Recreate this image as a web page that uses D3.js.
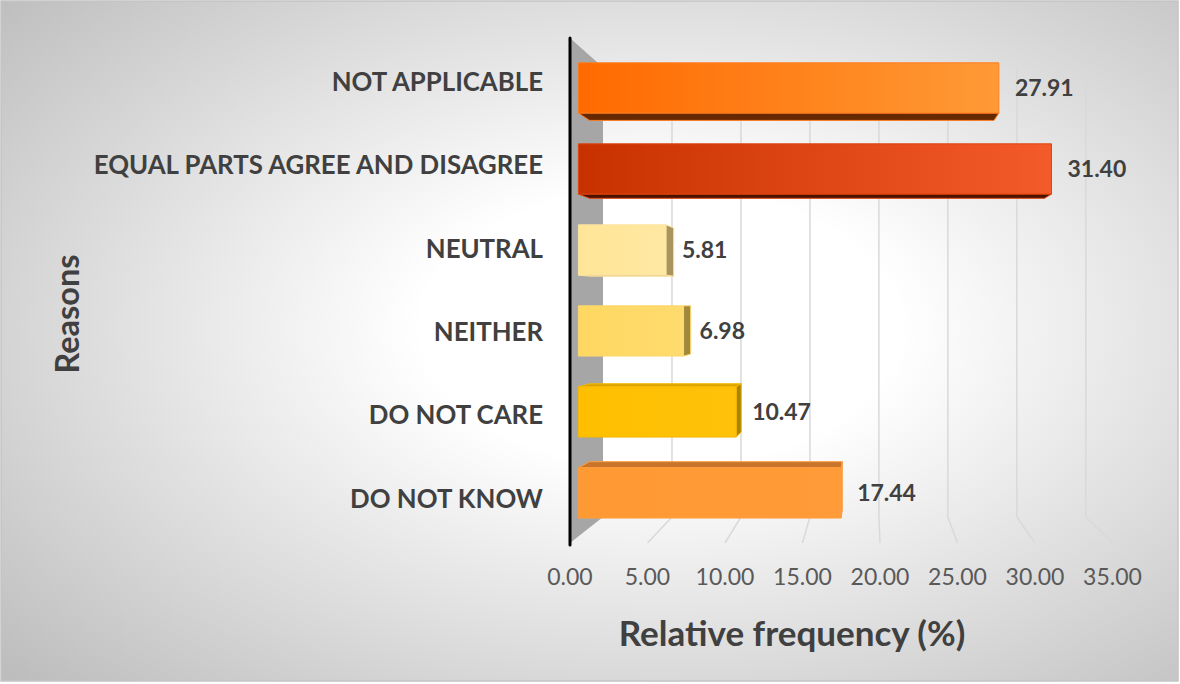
<!DOCTYPE html>
<html>
<head>
<meta charset="utf-8">
<script src="https://cdn.jsdelivr.net/npm/d3@7"></script>
<style>
  html, body { margin: 0; padding: 0; background: #ffffff; }
  svg { display: block; }
</style>
</head>
<body>
<svg id="chart" width="1180" height="684"></svg>
<script>
// ---- data ----
const categories = ["NOT APPLICABLE", "EQUAL PARTS AGREE AND DISAGREE", "NEUTRAL", "NEITHER", "DO NOT CARE", "DO NOT KNOW"];
const values = [27.91, 31.40, 5.81, 6.98, 10.47, 17.44];
const tickValues = [0, 5, 10, 15, 20, 25, 30, 35];
const tickLabels = ["0.00", "5.00", "10.00", "15.00", "20.00", "25.00", "30.00", "35.00"];
const xTitle = "Relative frequency (%)";
const yTitle = "Reasons";

// ---- palette (style) ----
const palette = [
  { front: ["#ff6a00", "#ff9a36"], top: "#d95a00", bottom: "#662800", right: "#a84400", stroke: "#ff7d1f" },
  { front: ["#c73100", "#f45b2b"], top: "#a82a00", bottom: "#4a1200", right: "#8a2400", stroke: "#e0440c" },
  { front: ["#ffe596", "#ffe8a3"], top: "#e0c680", bottom: "#a89560", right: "#a8945c", stroke: "#fde3a0" },
  { front: ["#ffd862", "#ffdb6e"], top: "#dcb64c", bottom: "#a0883a", right: "#a0883c", stroke: "#fcd76a" },
  { front: ["#ffbf00", "#ffc20a"], top: "#dba400", bottom: "#8f6c00", right: "#a98400", stroke: "#f5b800" },
  { front: ["#ff9933", "#ff9b38"], top: "#c8742a", bottom: "#8a4a10", right: "#b06a20", stroke: "#ff9d3d" }
];

const svg = d3.select("#chart");
const W = 1180, H = 684;
const defs = svg.append("defs");
const FONT = "Lato, 'Open Sans', sans-serif";

// background
const bg = defs.append("radialGradient").attr("id", "bgGrad")
  .attr("cx", "0.56").attr("cy", "0.48").attr("r", "0.75");
bg.append("stop").attr("offset", "0").attr("stop-color", "#ffffff");
bg.append("stop").attr("offset", "0.27").attr("stop-color", "#ffffff");
bg.append("stop").attr("offset", "1").attr("stop-color", "#bdbdbd");

svg.append("rect").attr("x", 1).attr("y", 1).attr("width", W - 3).attr("height", H - 4)
  .attr("fill", "url(#bgGrad)").attr("stroke", "#c4c4c4").attr("stroke-width", 1.5);

// ---- scales (front plane) ----
const x = d3.scaleLinear().domain([0, 35]).range([570, 1112.5]);
const y = d3.scaleBand().domain(categories).range([40, 540]).paddingInner(0.38).paddingOuter(0.19);
const wallTop = 38, floorY = 543;

// perspective
const vp = { x: 870, y: 306 };
const kBack = 0.89, kBarFront = 0.972, kBarBack = 0.935;
const proj = (X, Y, k) => [vp.x + (X - vp.x) * k, vp.y + (Y - vp.y) * k];
const poly = pts => "M" + pts.map(p => p[0].toFixed(2) + "," + p[1].toFixed(2)).join("L") + "Z";

// side wall
const X0 = x(0);
svg.append("path")
  .attr("d", poly([proj(X0, wallTop, 1), proj(X0, wallTop, kBack), proj(X0, floorY, kBack), proj(X0, floorY, 1)]))
  .attr("fill", "#a6a6a6");

// gridlines (back wall + floor)
svg.append("g").selectAll("path").data(tickValues.filter(v => v > 0)).join("path")
  .attr("d", v => {
    const a = proj(x(v), wallTop, kBack), b = proj(x(v), floorY, kBack), c = proj(x(v), floorY, 1);
    return `M${a[0]},${a[1]}L${b[0]},${b[1]}L${c[0]},${c[1]}`;
  })
  .attr("fill", "none").attr("stroke", "#d9d9d9").attr("stroke-width", 1.5);

// tick labels
svg.append("g").selectAll("text").data(tickValues).join("text")
  .attr("x", v => x(v)).attr("y", 585)
  .attr("text-anchor", "middle")
  .attr("font-family", FONT).attr("font-size", 23)
  .attr("fill", "#595959")
  .text((v, i) => tickLabels[i]);

// bar gradients
const data = categories.map((c, i) => ({ c, v: values[i], i }));
data.forEach(d => {
  const p = palette[d.i];
  const g = defs.append("linearGradient").attr("id", "barGrad" + d.i).attr("x1", "0").attr("x2", "1").attr("y1", "0").attr("y2", "0");
  g.append("stop").attr("offset", "0").attr("stop-color", p.front[0]);
  g.append("stop").attr("offset", "1").attr("stop-color", p.front[1]);
});

// bars
const barG = svg.append("g");
data.forEach(d => {
  const p = palette[d.i];
  const xa = x(0), xb = x(d.v);
  const ya = y(d.c), yb = y(d.c) + y.bandwidth();
  const g = barG.append("g");
  const face = (pts, fill) => g.append("path").attr("d", poly(pts))
    .attr("fill", fill).attr("stroke", p.stroke).attr("stroke-width", 1).attr("stroke-linejoin", "round");
  if (ya > vp.y) face([proj(xa, ya, kBarFront), proj(xb, ya, kBarFront), proj(xb, ya, kBarBack), proj(xa, ya, kBarBack)], p.top);
  if (yb < vp.y) face([proj(xa, yb, kBarFront), proj(xb, yb, kBarFront), proj(xb, yb, kBarBack), proj(xa, yb, kBarBack)], p.bottom);
  if (xb < vp.x) face([proj(xb, ya, kBarFront), proj(xb, yb, kBarFront), proj(xb, yb, kBarBack), proj(xb, ya, kBarBack)], p.right);
  face([proj(xa, ya, kBarFront), proj(xb, ya, kBarFront), proj(xb, yb, kBarFront), proj(xa, yb, kBarFront)], `url(#barGrad${d.i})`);

  // value label
  const fr = proj(xb, (ya + yb) / 2, kBarFront);
  svg.append("text")
    .attr("x", fr[0] + 16).attr("y", fr[1]).attr("dy", "0.36em")
    .attr("font-family", FONT).attr("font-weight", 700).attr("font-size", 23)
    .attr("fill", "#404040")
    .text(d.v.toFixed(2));
});

// axis line
svg.append("line").attr("x1", X0).attr("x2", X0).attr("y1", wallTop).attr("y2", floorY + 2)
  .attr("stroke", "#000").attr("stroke-width", 3).attr("stroke-linecap", "round");

// category labels
svg.append("g").selectAll("text").data(categories).join("text")
  .attr("x", 543).attr("y", c => y(c) + y.bandwidth() / 2).attr("dy", "0.36em")
  .attr("text-anchor", "end")
  .attr("font-family", FONT).attr("font-weight", 700).attr("font-size", 25.8)
  .attr("fill", "#404040")
  .text(c => c);

// axis titles
svg.append("text").attr("x", 792).attr("y", 633).attr("dy", "0.36em")
  .attr("text-anchor", "middle")
  .attr("font-family", FONT).attr("font-weight", 700).attr("font-size", 35)
  .attr("fill", "#404040").text(xTitle);

svg.append("text").attr("transform", "translate(67,314) rotate(-90)").attr("dy", "0.36em")
  .attr("text-anchor", "middle")
  .attr("font-family", FONT).attr("font-weight", 700).attr("font-size", 32.5)
  .attr("fill", "#404040").text(yTitle);
</script>
</body>
</html>
